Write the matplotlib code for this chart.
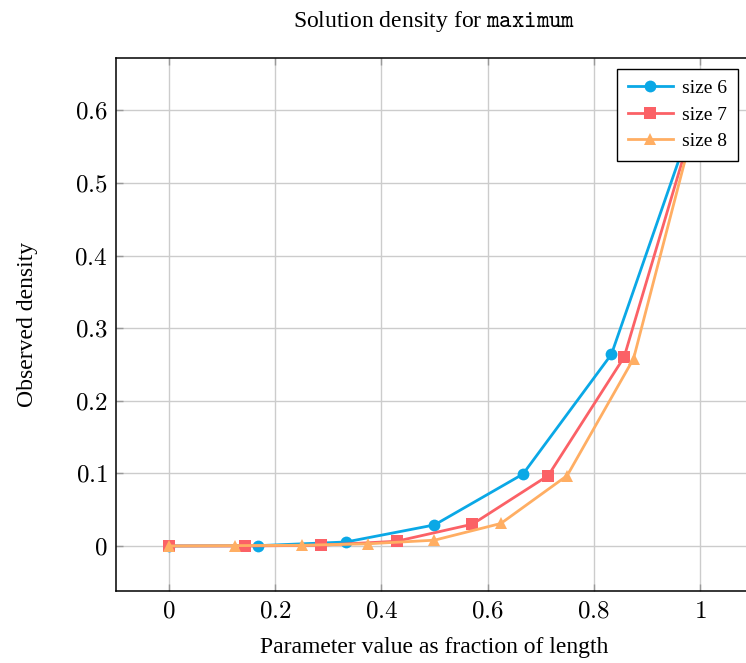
import matplotlib
matplotlib.use("Agg")
import matplotlib.pyplot as plt
from matplotlib.ticker import FuncFormatter

plt.rcParams["mathtext.fontset"] = "cm"
plt.rcParams["font.family"] = "Liberation Serif"

# data
x6 = [0, 1/6, 2/6, 3/6, 4/6, 5/6, 1]
y6 = [0, 0.0004, 0.0055, 0.029, 0.099, 0.264, 0.615]
x7 = [0, 1/7, 2/7, 3/7, 4/7, 5/7, 6/7, 1]
y7 = [0, 0.0, 0.001, 0.0065, 0.030, 0.097, 0.260, 0.612]
x8 = [0, 1/8, 2/8, 3/8, 4/8, 5/8, 6/8, 7/8, 1]
y8 = [0, 0.0005, 0.001, 0.003, 0.008, 0.031, 0.097, 0.258, 0.61]

labels = ["size 6", "size 7", "size 8"]
colors = ["#0aa8e6", "#fb6166", "#ffae63"]
markers = ["o", "s", "^"]
msizes = [8.5, 8.0, 9.0]

xticks = [0, 0.2, 0.4, 0.6, 0.8, 1]
yticks = [0, 0.1, 0.2, 0.3, 0.4, 0.5, 0.6]

W, H = 746, 663
fig = plt.figure(figsize=(W / 100, H / 100), dpi=100)
ax = fig.add_axes([116 / W, 1 - 591 / H, (753 - 116) / W, (591 - 58) / H])

for xs, ys, lab, c, m, ms in zip([x6, x7, x8], [y6, y7, y8], labels, colors, markers, msizes):
    ax.plot(xs, ys, color=c, marker=m, markersize=ms, linewidth=2.0, label=lab,
            markeredgewidth=0, zorder=3)

ax.set_xlim(-0.1, 1.1)
ax.set_ylim(-0.062, 0.672)
ax.set_xticks(xticks)
ax.set_yticks(yticks)


def fmt(v, pos):
    s = f"{v:g}"
    return f"${s}$"


ax.xaxis.set_major_formatter(FuncFormatter(fmt))
ax.yaxis.set_major_formatter(FuncFormatter(fmt))
ax.tick_params(direction="in", length=5, color="#999999", width=1,
               labelsize=18, top=True, right=True)
ax.tick_params(axis="y", pad=6)
ax.tick_params(axis="x", pad=7)
ax.grid(True, color="#cccccc", linewidth=1.0, zorder=0)
ax.set_axisbelow(True)
for sp in ax.spines.values():
    sp.set_linewidth(1.1)

ax.set_xlabel("Parameter value as fraction of length", fontsize=17, labelpad=10)
ax.set_ylabel("Observed density", fontsize=17, labelpad=26)
ax.set_title(r"Solution density for $\mathtt{maximum}$", fontsize=17, pad=22)

leg = ax.legend(loc="upper right", bbox_to_anchor=(738 / W, 1 - 69 / H),
                bbox_transform=fig.transFigure, borderaxespad=0, fontsize=14,
                fancybox=False, framealpha=1, edgecolor="black",
                handlelength=2.3, handletextpad=0.5, labelspacing=0.45, borderpad=0.55)
leg.get_frame().set_linewidth(1.0)

fig.savefig("out.png", dpi=100)
